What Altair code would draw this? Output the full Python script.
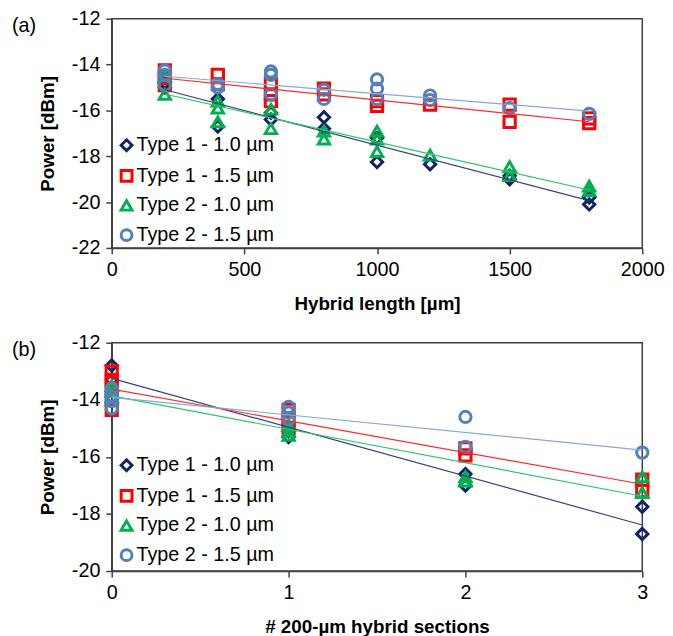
import altair as alt
import pandas as pd

series = ["Type 1 - 1.0 µm", "Type 1 - 1.5 µm", "Type 2 - 1.0 µm", "Type 2 - 1.5 µm"]
shapes = ["diamond", "square", "triangle-up", "circle"]
point_colors = ["#0F2366", "#FF0000", "#00B050", "#4F81BD"]
line_colors = ["#33437F", "#FF2A2A", "#2EC46A", "#86A8DA"]

# Panel (a): power vs hybrid length
a_x_t1_10 = [200, 200, 400, 400, 600, 600, 800, 800, 1000, 1000, 1200, 1500, 1500, 1800, 1800]
a_y_t1_10 = [-14.8, -15.0, -15.5, -16.7, -16.1, -16.4, -16.3, -16.8, -17.2, -18.25, -18.35, -18.85, -19.0, -19.8, -20.1]
a_x_t1_15 = [200, 200, 200, 400, 400, 600, 600, 600, 800, 800, 1000, 1000, 1200, 1500, 1500, 1800, 1800]
a_y_t1_15 = [-14.25, -14.6, -14.9, -14.45, -14.85, -14.85, -15.3, -15.6, -15.05, -15.3, -15.6, -15.8, -15.75, -15.75, -16.5, -16.35, -16.55]
a_x_t2_10 = [200, 200, 400, 400, 400, 600, 600, 800, 800, 1000, 1000, 1000, 1200, 1500, 1500, 1800, 1800]
a_y_t2_10 = [-14.5, -15.3, -15.6, -15.9, -16.5, -15.95, -16.8, -16.9, -17.25, -16.9, -17.25, -17.8, -17.95, -18.45, -18.85, -19.3, -19.5]
a_x_t2_15 = [200, 200, 200, 400, 400, 600, 600, 600, 800, 800, 1000, 1000, 1000, 1200, 1200, 1500, 1800]
a_y_t2_15 = [-14.25, -14.45, -14.9, -14.85, -15.0, -14.3, -14.45, -15.3, -15.1, -15.5, -14.65, -15.05, -15.5, -15.35, -15.55, -15.9, -16.15]

# Panel (b): power vs number of 200-um hybrid sections
b_x_t1_10 = [0, 0, 1, 1, 2, 2, 3, 3]
b_y_t1_10 = [-12.8, -13.3, -15.1, -15.3, -16.6, -17.0, -17.75, -18.7]
b_x_t1_15 = [0, 0, 0, 0, 0, 1, 1, 1, 2, 2, 3, 3]
b_y_t1_15 = [-13.0, -13.3, -13.6, -14.0, -14.35, -14.35, -14.7, -15.0, -15.7, -15.95, -16.8, -17.2]
b_x_t2_10 = [0, 0, 0, 1, 1, 1, 2, 2, 3, 3]
b_y_t2_10 = [-13.5, -13.7, -13.9, -14.9, -15.1, -15.25, -16.7, -16.85, -16.7, -17.25]
b_x_t2_15 = [0, 0, 0, 0, 1, 1, 1, 2, 2, 3]
b_y_t2_15 = [-13.6, -13.85, -14.05, -14.3, -14.25, -14.45, -14.7, -14.6, -15.65, -15.85]

a_x_ticks = [0, 500, 1000, 1500, 2000]
a_y_ticks = [-22, -20, -18, -16, -14, -12]
b_x_ticks = [0, 1, 2, 3]
b_y_ticks = [-20, -18, -16, -14, -12]

FONT = "Liberation Sans"


def build(xs, ys):
    rows = []
    for name, xl, yl in zip(series, xs, ys):
        for xv, yv in zip(xl, yl):
            rows.append({"series": name, "x": xv, "y": yv})
    return pd.DataFrame(rows)


df_a = build([a_x_t1_10, a_x_t1_15, a_x_t2_10, a_x_t2_15], [a_y_t1_10, a_y_t1_15, a_y_t2_10, a_y_t2_15])
df_b = build([b_x_t1_10, b_x_t1_15, b_x_t2_10, b_x_t2_15], [b_y_t1_10, b_y_t1_15, b_y_t2_10, b_y_t2_15])

label_expr = "datum.value < 0 ? '-' + abs(datum.value) : '' + datum.value"


def panel(df, xdom, ydom, xticks, yticks, xtitle, tag, legend_y, h):
    def legend():
        return alt.Legend(orient="none", legendX=5, legendY=legend_y, title=None,
                          labelFontSize=20, labelFont=FONT, labelColor="black",
                          symbolStrokeWidth=3, symbolSize=120, rowPadding=7,
                          padding=0, labelOffset=0, symbolOpacity=1)

    xenc = alt.X("x:Q", scale=alt.Scale(domain=xdom, nice=False, zero=False),
                 axis=alt.Axis(values=xticks, title=xtitle, labelExpr=label_expr, format="d",
                               labelFlush=False))
    yenc = alt.Y("y:Q", scale=alt.Scale(domain=ydom, nice=False, zero=False),
                 axis=alt.Axis(values=yticks, title="Power [dBm]", labelExpr=label_expr))
    pts = alt.Chart(df).mark_point(filled=False, strokeWidth=3, size=130, opacity=1, clip=False).encode(
        x=xenc, y=yenc,
        color=alt.Color("series:N", scale=alt.Scale(domain=series, range=point_colors), legend=legend()),
        shape=alt.Shape("series:N", scale=alt.Scale(domain=series, range=shapes), legend=legend()),
        order=alt.Order("ord:Q"),
    ).transform_calculate(ord="indexof(%s, datum.series)" % str(series))
    lines = alt.Chart(df).transform_regression("x", "y", groupby=["series"]).mark_line(strokeWidth=1.2).encode(
        x="x:Q", y="y:Q",
        stroke=alt.Stroke("series:N", scale=alt.Scale(domain=series, range=line_colors), legend=None),
    )
    txt = alt.Chart(pd.DataFrame({"t": [tag]})).mark_text(
        align="left", baseline="middle", fontSize=20, font=FONT, color="black"
    ).encode(text="t:N", x=alt.value(-101), y=alt.value(7))
    return alt.layer(pts, lines, txt).resolve_scale(color="independent", shape="independent", stroke="independent").properties(width=537, height=h)


top = panel(df_a, [0, 2000], [-22, -12], a_x_ticks, a_y_ticks, "Hybrid length [µm]", "(a)", 118, 232)
bottom = panel(df_b, [0, 3], [-20, -12], b_x_ticks, b_y_ticks, "# 200-µm hybrid sections", "(b)", 114, 231)

chart = alt.vconcat(top, bottom, spacing=18).resolve_scale(
    color="independent", shape="independent", stroke="independent"
).resolve_legend(color="independent", shape="independent").properties(
    padding={"left": 3, "top": -4, "right": 0, "bottom": 0}
).configure_axis(
    labelFont=FONT, titleFont=FONT, labelFontSize=20, titleFontSize=19, titleFontWeight="bold",
    labelColor="black", titleColor="black", domainColor="#404040", tickColor="#404040",
    domainWidth=1.5, tickWidth=1.5, tickSize=6, grid=False, labelPadding=6,
).configure_axisX(titlePadding=15).configure_axisY(titlePadding=14).configure_view(
    stroke="#404040", strokeWidth=1.5
)

chart.save("out.html", embed_options={"renderer": "svg", "actions": False})
